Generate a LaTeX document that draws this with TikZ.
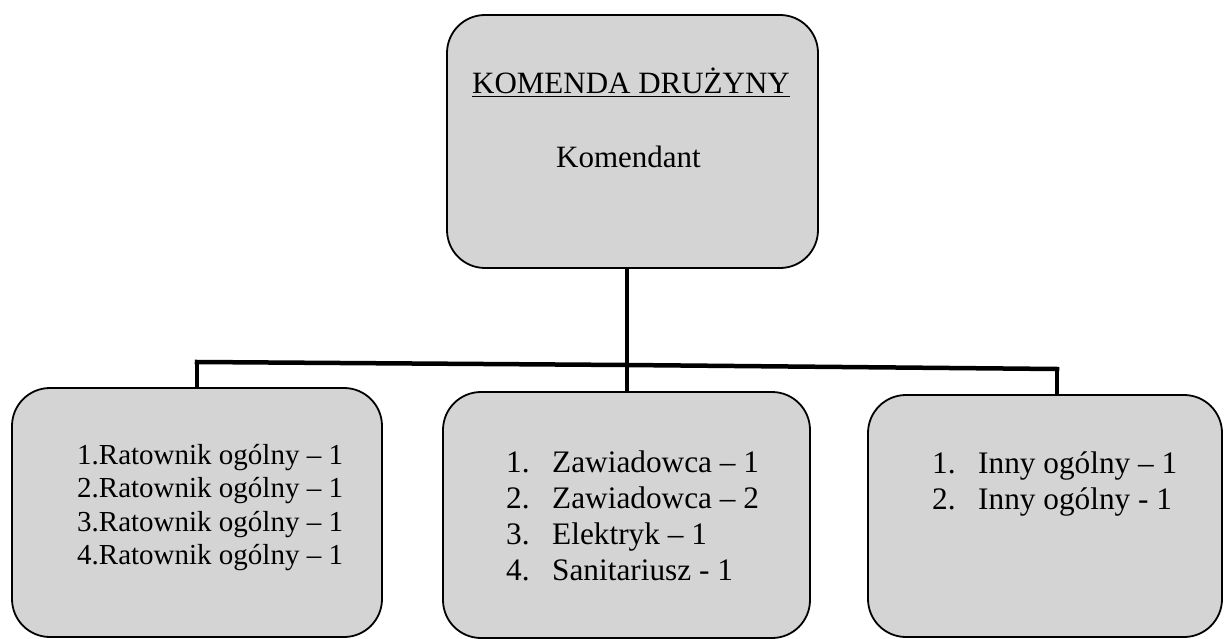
\documentclass[tikz,border=0pt]{standalone}
\usepackage{fontspec}
\setmainfont{Liberation Serif}
\definecolor{boxgray}{gray}{0.83}
\begin{document}
\begin{tikzpicture}[x=1pt,y=-1pt,
  box/.style={draw=black, line width=1.8pt, rounded corners=38pt, fill=boxgray, inner sep=0pt},
  conn/.style={draw=black, line width=4.5pt, line cap=rect},
  ttl/.style={inner sep=0pt, font=\fontsize{31}{36}\selectfont},
  item/.style={inner sep=0pt, anchor=base west, font=\fontsize{29}{34}\selectfont},
  itemb/.style={inner sep=0pt, anchor=base west, font=\fontsize{31.3}{36}\selectfont}]
\useasboundingbox (0,0) rectangle (1226,639);
% boxes
\node[box, minimum width=371pt, minimum height=253pt] (top) at (632.5,141.5) {};
\node[box, minimum width=370pt, minimum height=249pt] (A) at (197,512.5) {};
\node[box, minimum width=367pt, minimum height=246pt] (B) at (626.5,515) {};
\node[box, minimum width=354pt, minimum height=242pt] (C) at (1045,516) {};
% connectors
\coordinate (jl) at (197,362);
\coordinate (jm) at (627,365);
\coordinate (jr) at (1057,369);
\draw[conn] (top.south -| jm) -- (jm);
\draw[conn] (jl) -- (jm) -- (jr);
\draw[conn] (jl) -- (jl |- A.north);
\draw[conn] (jm) -- (jm |- B.north);
\draw[conn] (jr) -- (jr |- C.north);
% top texts
\node[ttl, anchor=base] (t1) at (631,94) {\underline{KOMENDA DRUŻYNY}};
\node[ttl, anchor=base] (t2) at (628.5,168) {Komendant};
% left list
\node[item] (a1) at (77,464) {1.Ratownik ogólny – 1};
\node[item] (a2) at (77,497.5) {2.Ratownik ogólny – 1};
\node[item] (a3) at (77,531) {3.Ratownik ogólny – 1};
\node[item] (a4) at (77,564.5) {4.Ratownik ogólny – 1};
% middle list
\node[itemb] (b1) at (506,472) {\makebox[46pt][l]{1.}Zawiadowca – 1};
\node[itemb] (b2) at (506,508) {\makebox[46pt][l]{2.}Zawiadowca – 2};
\node[itemb] (b3) at (506,544) {\makebox[46pt][l]{3.}Elektryk – 1};
\node[itemb] (b4) at (506,580) {\makebox[46pt][l]{4.}Sanitariusz - 1};
% right list
\node[itemb] (c1) at (932,473) {\makebox[46pt][l]{1.}Inny ogólny – 1};
\node[itemb] (c2) at (932,509) {\makebox[46pt][l]{2.}Inny ogólny - 1};
\end{tikzpicture}
\end{document}
